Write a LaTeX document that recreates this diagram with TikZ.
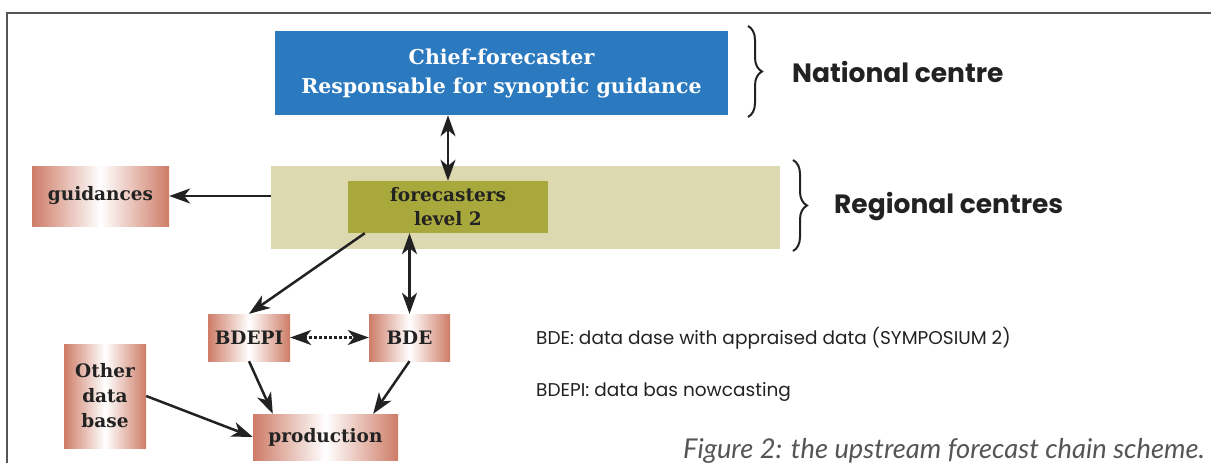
\documentclass[tikz,border=0pt]{standalone}
\usepackage{fontspec}
\newfontfamily\labelsans{Poppins}
\newfontfamily\capsans{Lato}
\newfontfamily\boxserif{DejaVu Serif}
\usetikzlibrary{arrows.meta,calc,decorations.pathreplacing}

\definecolor{chiefblue}{HTML}{2B79BF}
\definecolor{regbeige}{HTML}{DCD9B0}
\definecolor{levolive}{HTML}{A8A83C}
\definecolor{salmon}{HTML}{CE7C67}
\definecolor{ink}{HTML}{222222}
\definecolor{framegray}{HTML}{555555}

\tikzset{
  box/.style={rectangle, inner sep=0pt, align=center, font=\boxserif\bfseries\fontsize{18.5}{24}\selectfont},
  dbbox/.style={box, shade, shading=axis, left color=salmon, right color=salmon, middle color=white, text=ink},
  arr/.style={-{Stealth[length=21pt,width=15pt,inset=6pt]}, line width=2.5pt, draw=ink},
  arrtwo/.style={{Stealth[length=21pt,width=15pt,inset=6pt]}-{Stealth[length=21pt,width=15pt,inset=6pt]}, line width=2.5pt, draw=ink},
  dotarr/.style={{Stealth[length=21pt,width=15pt,inset=6pt]}-{Stealth[length=21pt,width=15pt,inset=6pt]}, line width=2.2pt, draw=ink, dash pattern=on 2.2pt off 2.8pt},
  bracepath/.style={decorate, decoration={brace, amplitude=14pt}, line width=2pt, draw=ink},
  sidelabel/.style={anchor=west, inner sep=0pt, text=ink, font=\labelsans\bfseries\fontsize{26.5}{30}\selectfont},
  legend/.style={anchor=west, inner sep=0pt, text=ink, font=\labelsans\fontsize{18.5}{22}\selectfont},
}

\begin{document}
\begin{tikzpicture}[x=1pt, y=-1pt]
  \useasboundingbox (0,0) rectangle (1211,463);

  % outer frame (top and left edges)
  \draw[framegray, line width=1.3pt] (7,463) -- (7,13) -- (1211,13);

  % national level
  \node[box, fill=chiefblue, text=white, minimum width=453pt, minimum height=84pt,
        font=\boxserif\bfseries\fontsize{20.5}{29}\selectfont] (chief) at (501.5,73)
        {Chief-forecaster\\Responsable for synoptic guidance};

  % regional level
  \node[rectangle, fill=regbeige, inner sep=0pt, minimum width=509pt, minimum height=83pt] (regional) at (525.5,207.5) {};
  \node[box, fill=levolive, text=ink, minimum width=200pt, minimum height=52pt,
        font=\boxserif\bfseries\fontsize{18.5}{24}\selectfont] (fc2) at (448,207) {forecasters\\level 2};

  % data bases and products
  \node[dbbox, minimum width=137pt, minimum height=60pt] (guid) at (100.5,196) {guidances};
  \node[dbbox, minimum width=82pt, minimum height=47pt] (bdepi) at (249,337.5) {BDEPI};
  \node[dbbox, minimum width=81pt, minimum height=47pt] (bde) at (409.5,337.5) {BDE};
  \node[dbbox, minimum width=82pt, minimum height=104pt,
        font=\boxserif\bfseries\fontsize{18.5}{25}\selectfont] (other) at (105,396) {Other\\data\\base};
  \node[dbbox, minimum width=145pt, minimum height=46pt] (prod) at (325.5,437) {production};

  % braces and level names
  \coordinate (nbtop) at (748,26);
  \coordinate (nbbot) at (748,117);
  \coordinate (rbtop) at (793,160);
  \coordinate (rbbot) at (793,251);
  \draw[bracepath] (nbtop) -- (nbbot);
  \draw[bracepath] (rbtop) -- (rbbot);
  \node[sidelabel] (natl) at (792,72) {National centre};
  \node[sidelabel] (regl) at (834,207) {Regional centres};

  % connectors
  \draw[arr] (regional.west |- guid.east) -- (guid.east);
  \draw[arrtwo] (chief.south -| fc2.north) -- (fc2.north);
  \draw[arrtwo] (fc2.south -| bde.north) -- (bde.north);
  \draw[arr] ($(fc2.south west)+(17,0)$) -- (bdepi.north);
  \draw[dotarr] (bdepi.east) -- (bde.west);
  \draw[arr] (bdepi.south) -- ($(prod.north west)+(20,0)$);
  \draw[arr] (bde.south) -- ($(prod.north east)+(-25,0)$);
  \draw[arr] (other.east) -- (prod.west);

  % legend and caption
  \node[legend] (lgbde) at (536,338) {BDE: data dase with appraised data (SYMPOSIUM 2)};
  \node[legend] (lgbdepi) at (536,392) {BDEPI: data bas nowcasting};
  \node[anchor=base west, inner sep=0pt, text=framegray, font=\capsans\itshape\fontsize{27.3}{30}\selectfont] (cap) at (683,458)
        {Figure 2: the upstream forecast chain scheme.};
\end{tikzpicture}
\end{document}
